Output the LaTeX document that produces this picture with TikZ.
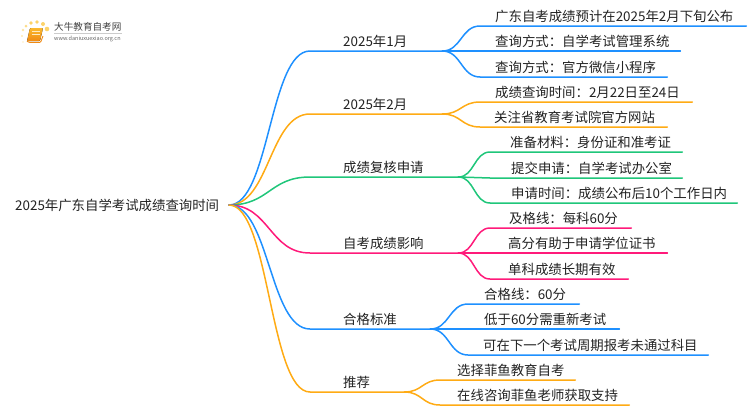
\documentclass[tikz,border=0pt]{standalone}
\usepackage{fontspec}
\usetikzlibrary{calc}
\setmainfont{Noto Sans CJK SC}
\definecolor{cblue}{HTML}{1E90FF}
\definecolor{corange}{HTML}{FFAB14}
\definecolor{cgreen}{HTML}{1FC67A}
\definecolor{cpink}{HTML}{FF1A7A}
\definecolor{ctext}{HTML}{222222}
\definecolor{booktop}{HTML}{FBB92E}
\definecolor{bookbot}{HTML}{F08A12}
\definecolor{dotc}{HTML}{FCD36A}
\tikzset{
  x=1pt,y=-1pt,
  rootbox/.style={inner sep=0pt,text=ctext,font=\fontsize{13.4pt}{15pt}\selectfont},
  linebox/.style={anchor=south west,inner xsep=0pt,inner ysep=1.5pt,text=ctext,
    font=\fontsize{13.4pt}{15pt}\selectfont,align=left,text height=11.5pt,text depth=2.5pt},
  conn/.style={line width=1.5pt,line cap=round,draw=#1},
}
% name, x0, x1, y, text start, text
\newcommand{\linenode}[6]{%
  \pgfmathsetmacro{\boxw}{#3-#2}\pgfmathsetmacro{\boxo}{#5-#2}%
  \node[linebox,text width=\boxw pt] (#1) at (#2,#4) {\hspace*{\boxo pt}#6};}
% curve from point a to the start of node b, then along its foot
\newcommand{\swoop}[3]{%
  \draw[conn=#1] let \p1=(#2), \p2=(#3.south west) in
    (\p1) .. controls ({0.5*\x1+0.5*\x2},\y1) and ({0.5*\x1+0.5*\x2},\y2) .. (\p2) -- (#3.south east);}
\begin{document}
\begin{tikzpicture}
\useasboundingbox (0,0) rectangle (750,410);
% root
\node[rootbox,anchor=west] (root) at (15,205) {2025年广东自学考试成绩查询时间};
\coordinate (o) at (229,205);
% branches
\linenode{b1}{310}{442}{51}{343}{2025年1月}
\linenode{b2}{310}{442}{114}{343}{2025年2月}
\linenode{b3}{310}{458}{177}{343}{成绩复核申请}
\linenode{b4}{310}{458}{253}{343}{自考成绩影响}
\linenode{b5}{310}{430}{329}{343}{合格标准}
\linenode{b6}{310}{404}{392}{343}{推荐}
% leaves
\linenode{l11}{480}{746}{26}{495}{广东自考成绩预计在2025年2月下旬公布}
\linenode{l12}{480}{680}{51}{495}{查询方式：自学考试管理系统}
\linenode{l13}{480}{667}{77}{495}{查询方式：官方微信小程序}
\linenode{l21}{480}{692}{102}{495}{成绩查询时间：2月22日至24日}
\linenode{l22}{480}{667}{127}{494}{关注省教育考试院官方网站}
\linenode{l31}{490}{682}{152}{510}{准备材料：身份证和准考证}
\linenode{l32}{490}{682}{178}{511}{提交申请：自学考试办公室}
\linenode{l33}{490}{737}{203}{511}{申请时间：成绩公布后10个工作日内}
\linenode{l41}{490}{631}{228}{509}{及格线：每科60分}
\linenode{l42}{490}{667}{253}{508}{高分有助于申请学位证书}
\linenode{l43}{490}{628}{279}{508}{单科成绩长期有效}
\linenode{l51}{468}{579}{304}{484}{合格线：60分}
\linenode{l52}{468}{619}{329}{484}{低于60分需重新考试}
\linenode{l53}{468}{708}{355}{483}{可在下一个考试周期报考未通过科目}
\linenode{l61}{440}{575}{380}{457}{选择菲鱼教育自考}
\linenode{l62}{440}{629}{405}{457}{在线咨询菲鱼老师获取支持}
% connectors
\swoop{cblue}{o}{b1}
\swoop{corange}{o}{b2}
\swoop{cgreen}{o}{b3}
\swoop{cpink}{o}{b4}
\swoop{cblue}{o}{b5}
\swoop{corange}{o}{b6}
\foreach \b/\l/\c in {b1/l11/cblue,b1/l12/cblue,b1/l13/cblue,b2/l21/corange,b2/l22/corange,
  b3/l31/cgreen,b3/l32/cgreen,b3/l33/cgreen,b4/l41/cpink,b4/l42/cpink,b4/l43/cpink,
  b5/l51/cblue,b5/l52/cblue,b5/l53/cblue,b6/l61/corange,b6/l62/corange}{
  \swoop{\c}{\b.south east}{\l}
}
% logo
\fill[rounded corners=1pt,top color=booktop,bottom color=bookbot]
  (30,28) -- (43,28) -- (40,41) -- (27,41) -- cycle;
\draw[line width=0.9pt,bookbot,rounded corners=1pt] (43,36) -- (40.5,42.5) -- (29,42.5) -- (27,41);
\draw[line width=0.6pt,white!70!booktop] (32,31.5) -- (40,31.5) (31.5,34) -- (39.5,34);
\foreach \x/\y/\r/\o in {23/42/0.9/0.4,22/36/1.1/0.5,23/30/1.3/0.6,26/26/1.5/0.8,31/23/1.8/1,37/22/1.9/1,43/24/2/1,47/29/2.3/1}{
  \fill[dotc,opacity=\o] (\x,\y) circle (\r);
}
\node[inner sep=0pt,anchor=west,text=black!75,font=\fontsize{9.6pt}{11pt}\selectfont] (logotext) at (54,27) {大牛教育自考网};
\draw[black!20,line width=0.6pt] (54,33) -- (122,33);
\node[inner sep=0pt,anchor=west,text=black!60,font=\fontsize{5.5pt}{6pt}\selectfont] (logourl) at (54,38.5) {www.daniuxuexiao.org.cn};
\end{tikzpicture}
\end{document}
